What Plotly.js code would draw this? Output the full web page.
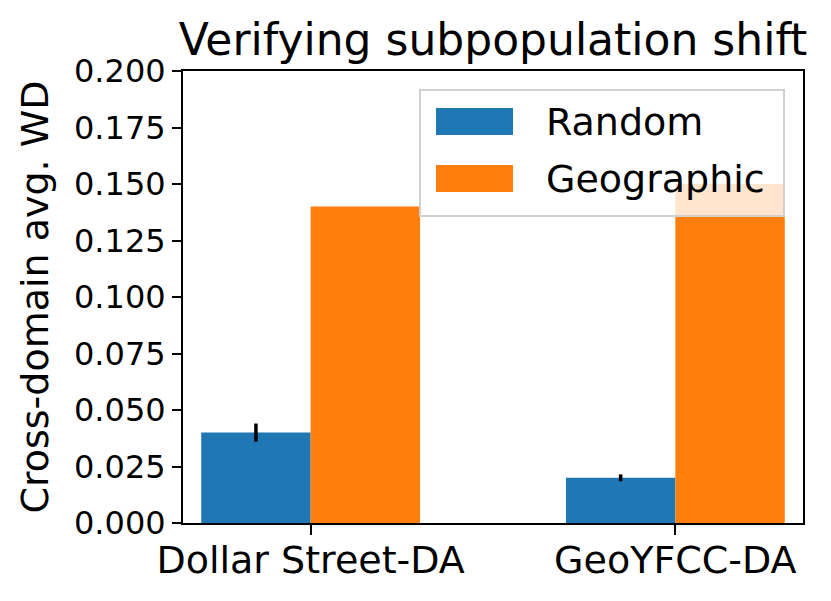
<!DOCTYPE html>
<html>
<head>
<meta charset="utf-8">
<script src="https://cdn.plot.ly/plotly-3.0.1.min.js"></script>
<style>html,body{margin:0;padding:0;background:#fff;}#chart{width:831px;height:601px;}</style>
</head>
<body>
<div id="chart"></div>
<script>
const categories = ["Dollar Street-DA", "GeoYFCC-DA"];
const seriesNames = ["Random", "Geographic"];
const randomValues = [0.040, 0.020];
const randomErrors = [0.004, 0.0015];
const geographicValues = [0.140, 0.150];
const yTickValues = [0, 0.025, 0.05, 0.075, 0.1, 0.125, 0.15, 0.175, 0.2];
const colors = ["#1f77b4", "#ff7f0e"];

const font = "DejaVu Sans, sans-serif";

const traces = [
  {
    type: "bar", name: seriesNames[0], x: categories, y: randomValues,
    offset: -0.3, width: 0.3, marker: {color: colors[0]},
    error_y: {type: "data", array: randomErrors, visible: true, color: "#000", thickness: 3.5, width: 0},
    showlegend: false
  },
  {
    type: "bar", name: seriesNames[1], x: categories, y: geographicValues,
    offset: 0, width: 0.3, marker: {color: colors[1]},
    showlegend: false
  }
];

const L = 183, R = 803, T = 71, B = 523;
const px = v => (v - L) / (R - L);
const py = v => (B - v) / (B - T);

const shapes = [
  {type: "rect", xref: "paper", yref: "paper", layer: "above",
   x0: px(420), x1: px(784), y0: py(216), y1: py(90),
   fillcolor: "rgba(255,255,255,0.8)", line: {color: "#d0d0d0", width: 2}},
  {type: "rect", xref: "paper", yref: "paper", layer: "above",
   x0: px(436), x1: px(513), y0: py(135), y1: py(108),
   fillcolor: colors[0], line: {width: 0}},
  {type: "rect", xref: "paper", yref: "paper", layer: "above",
   x0: px(436), x1: px(513), y0: py(192), y1: py(165),
   fillcolor: colors[1], line: {width: 0}}
];

const annotations = [
  {xref: "paper", yref: "paper", x: px(544), y: py(122), xanchor: "left", yanchor: "middle",
   text: seriesNames[0], showarrow: false, font: {family: font, size: 38, color: "#000"}},
  {xref: "paper", yref: "paper", x: px(544), y: py(179), xanchor: "left", yanchor: "middle",
   text: seriesNames[1], showarrow: false, font: {family: font, size: 38, color: "#000"}}
];

const layout = {
  width: 831, height: 601,
  margin: {l: L, r: 831 - R, t: T, b: 601 - B, pad: 0},
  paper_bgcolor: "#fff", plot_bgcolor: "#fff",
  font: {family: font, color: "#000"},
  barmode: "overlay",
  showlegend: false,
  title: {text: "Verifying subpopulation shift", font: {family: font, size: 44, color: "#000"},
          x: 0.5, xref: "paper", xanchor: "center", y: 1, yref: "paper", yanchor: "bottom", pad: {b: 16}},
  xaxis: {
    type: "category", range: [-0.35, 1.35],
    showline: true, linecolor: "#000", linewidth: 2, mirror: true,
    ticks: "outside", ticklen: 10, tickwidth: 2, tickcolor: "#000",
    tickfont: {family: font, size: 38, color: "#000"}, ticklabelstandoff: -8,
    showgrid: false, zeroline: false, automargin: false
  },
  yaxis: {
    range: [0, 0.2], tickvals: yTickValues, tickformat: ".3f",
    showline: true, linecolor: "#000", linewidth: 2, mirror: true,
    ticks: "outside", ticklen: 9, tickwidth: 2, tickcolor: "#000",
    tickfont: {family: font, size: 32, color: "#000"},
    showgrid: false, zeroline: false, automargin: false,
    title: {text: "Cross-domain avg. WD", font: {family: font, size: 38, color: "#000"}, standoff: 14}
  },
  shapes: shapes,
  annotations: annotations
};

Plotly.newPlot("chart", traces, layout, {displayModeBar: false, staticPlot: true});
</script>
</body>
</html>
